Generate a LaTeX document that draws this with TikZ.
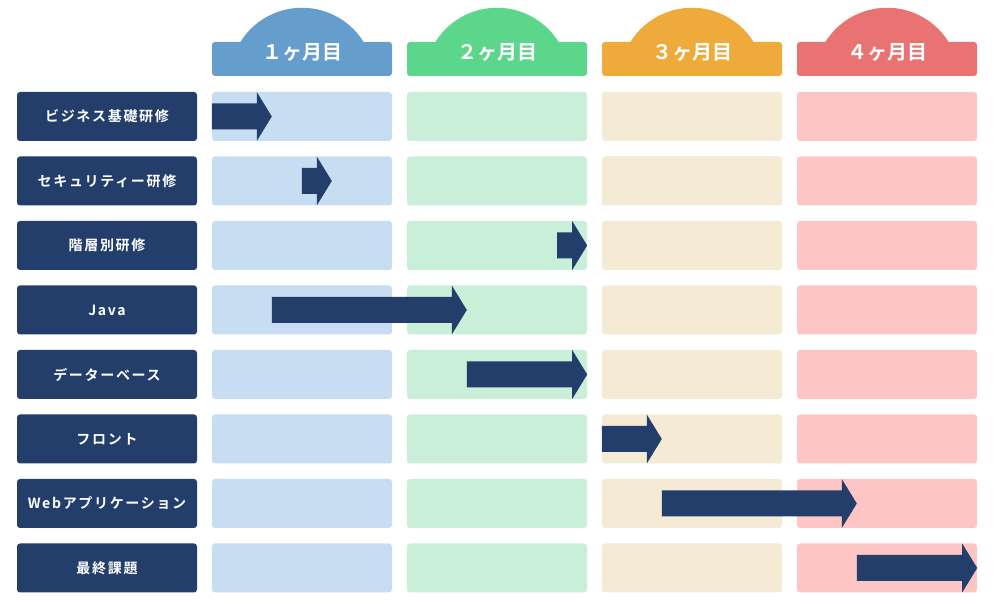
\documentclass[tikz,border=0pt]{standalone}
\usepackage{fontspec}
\newfontfamily\jphead{Noto Sans CJK JP Bold}
\newfontfamily\jplabel{Noto Sans CJK JP Bold}[LetterSpace=12]
\definecolor{navy}{HTML}{233E6B}
\definecolor{headA}{HTML}{659DCC}
\definecolor{headB}{HTML}{5CD68B}
\definecolor{headC}{HTML}{EEAB3B}
\definecolor{headD}{HTML}{E97373}
\definecolor{cellA}{HTML}{C6DDF2}
\definecolor{cellB}{HTML}{C9EFD8}
\definecolor{cellC}{HTML}{F5EAD4}
\definecolor{cellD}{HTML}{FDC6C5}
\tikzset{
  cell/.style={rounded corners=3pt, minimum width=180pt, minimum height=49pt, inner sep=0pt},
  task/.style={cell, fill=navy, text=white, font=\jplabel\fontsize{14}{14}\selectfont},
  monthbox/.style={rounded corners=3pt, minimum width=180pt, minimum height=34pt, inner sep=0pt},
  monthtext/.style={text=white, inner sep=0pt, font=\jphead\fontsize{20}{20}\selectfont},
  bar/.style={to path={([yshift=13pt]\tikztostart) -- ([xshift=-15pt,yshift=13pt]\tikztotarget)
    -- ([xshift=-15pt,yshift=24.5pt]\tikztotarget) -- (\tikztotarget)
    -- ([xshift=-15pt,yshift=-24.5pt]\tikztotarget) -- ([xshift=-15pt,yshift=-13pt]\tikztotarget)
    -- ([yshift=-13pt]\tikztostart) -- cycle}}
}
\begin{document}
\begin{tikzpicture}[x=1pt, y=1pt]
	\useasboundingbox (0,0) rectangle (994,604);
%	months
	\foreach \c/\x/\hd/\cl/\txt in {1/302/headA/cellA/１ヶ月目, 2/497/headB/cellB/２ヶ月目, 3/692/headC/cellC/３ヶ月目, 4/887/headD/cellD/４ヶ月目}{
		\node[monthbox, fill=\hd] (m\c) at (\x,545) {};
		\fill[\hd] ([xshift=-61.5pt]m\c.north) arc[start angle=147.9, end angle=32.1, radius=72.6pt] -- cycle;
		\node[monthtext] (mt\c) at (\x,552) {\txt};
		\foreach \r in {1,...,8}
			\node[cell, fill=\cl] (c\r-\c) at (\x,{552-64.5*\r}) {};
	}
%	tasks
	\node[task] (t1) at (107,487.5) {ビジネス基礎研修};
	\node[task] (t2) at (107,423) {セキュリティー研修};
	\node[task] (t3) at (107,358.5) {階層別研修};
	\node[task] (t4) at (107,294) {Java};
	\node[task] (t5) at (107,229.5) {データーベース};
	\node[task] (t6) at (107,165) {フロント};
	\node[task] (t7) at (107,100.5) {Webアプリケーション};
	\node[task] (t8) at (107,36) {最終課題};
%	schedule
	\fill[navy] (c1-1.west) to[bar] ([xshift=60pt]c1-1.west);
	\fill[navy] ([xshift=90pt]c2-1.west) to[bar] ([xshift=120pt]c2-1.west);
	\fill[navy] ([xshift=-30pt]c3-2.east) to[bar] (c3-2.east);
	\fill[navy] ([xshift=60pt]c4-1.west) to[bar] ([xshift=60pt]c4-2.west);
	\fill[navy] ([xshift=60pt]c5-2.west) to[bar] (c5-2.east);
	\fill[navy] (c6-3.west) to[bar] ([xshift=60pt]c6-3.west);
	\fill[navy] ([xshift=60pt]c7-3.west) to[bar] ([xshift=60pt]c7-4.west);
	\fill[navy] ([xshift=60pt]c8-4.west) to[bar] (c8-4.east);
\end{tikzpicture}
\end{document}
